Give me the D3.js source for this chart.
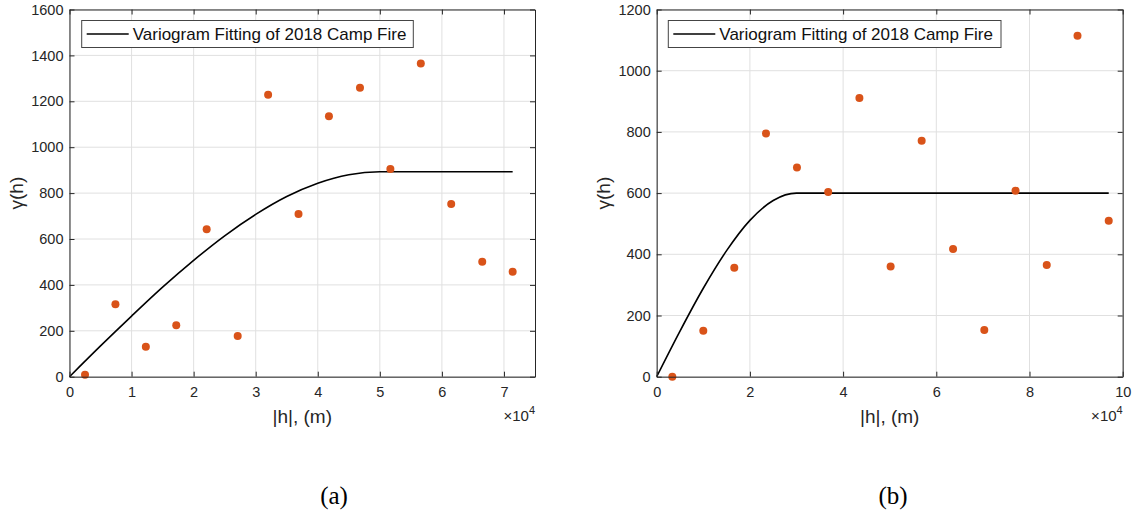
<!DOCTYPE html>
<html>
<head>
<meta charset="utf-8">
<script src="https://cdn.jsdelivr.net/npm/d3@7"></script>
<style>
  html, body { margin: 0; padding: 0; background: #fff; }
  svg { display: block; }
  text { font-family: "Liberation Sans", Arial, Helvetica, sans-serif; }
</style>
</head>
<body>
<svg id="chart" width="1135" height="517"></svg>
<script>
// Experimental variogram (lag distance in metres, semivariance) and fitted model, panel (a)
const lagA = [2500, 7400, 12300, 17200, 22100, 27100, 32000, 36900, 41800, 46800, 51700, 56600, 61500, 66500, 71400];
const gammaA = [8, 316, 131, 224, 642, 177, 1229, 709, 1135, 1259, 905, 1365, 752, 501, 457];
const fitLagA = [0, 5000, 10000, 15000, 20000, 25000, 30000, 35000, 40000, 45000, 50000, 71400];
const fitGammaA = [0, 134, 264, 390, 507, 614, 707, 785, 843, 880, 893, 893];
const xTicksA = [0, 1, 2, 3, 4, 5, 6, 7];
const yTicksA = [0, 200, 400, 600, 800, 1000, 1200, 1400, 1600];

// Panel (b)
const lagB = [3350, 10000, 16650, 23450, 30100, 36800, 43500, 50200, 56860, 63600, 70300, 77000, 83700, 90300, 97000];
const gammaB = [0, 150, 356, 795, 684, 604, 911, 360, 771, 417, 153, 608, 365, 1114, 510];
const fitLagB = [0, 5000, 10000, 15000, 20000, 25000, 30000, 97000];
const fitGammaB = [0, 149, 289, 412, 511, 576, 600, 600];
const xTicksB = [0, 2, 4, 6, 8, 10];
const yTicksB = [0, 200, 400, 600, 800, 1000, 1200];

const legendLabel = "Variogram Fitting of 2018 Camp Fire";
const xLabel = "|h|, (m)";
const yLabel = "\u03b3(h)";

const svg = d3.select("#chart");
svg.append("rect").attr("width", 1135).attr("height", 517).attr("fill", "#fff");

const axisColor = "#262626";
const gridColor = "#e0e0e0";
const markerColor = "#d95319";

function panel(cfg) {
  const { left, top, width, height } = cfg;
  const g = svg.append("g").attr("transform", `translate(${left},${top})`);
  const x = d3.scaleLinear().domain(cfg.xDomain).range([0, width]);
  const y = d3.scaleLinear().domain(cfg.yDomain).range([height, 0]);
  const xt = cfg.xTicks.map(d => d * 1e4);

  // grid
  g.append("g").selectAll("line").data(xt).join("line")
    .attr("x1", d => x(d)).attr("x2", d => x(d))
    .attr("y1", 0).attr("y2", height)
    .attr("stroke", gridColor).attr("stroke-width", 1);
  g.append("g").selectAll("line").data(cfg.yTicks).join("line")
    .attr("y1", d => y(d)).attr("y2", d => y(d))
    .attr("x1", 0).attr("x2", width)
    .attr("stroke", gridColor).attr("stroke-width", 1);

  // fitted model curve
  const line = d3.line()
    .x((d, i) => x(cfg.fitLag[i]))
    .y(d => y(d))
    .curve(d3.curveMonotoneX);
  g.append("path").datum(cfg.fitGamma)
    .attr("d", line)
    .attr("fill", "none")
    .attr("stroke", "#000")
    .attr("stroke-width", 1.6);

  // experimental points
  g.append("g").selectAll("circle").data(cfg.gamma).join("circle")
    .attr("cx", (d, i) => x(cfg.lag[i]))
    .attr("cy", d => y(d))
    .attr("r", 4)
    .attr("fill", markerColor);

  // axes (bottom/left with labels, top/right mirrored ticks only)
  const tickFont = g2 => g2.selectAll("text")
    .attr("fill", axisColor)
    .style("font-size", "14.5px")
    .style("font-family", '"Liberation Sans", Arial, sans-serif');
  const styleAxis = a => {
    a.select(".domain").attr("stroke", axisColor).attr("stroke-width", 1);
    a.selectAll(".tick line").attr("stroke", axisColor);
  };

  const bottom = g.append("g").attr("transform", `translate(0,${height})`)
    .call(d3.axisBottom(x).tickValues(xt).tickFormat(d => d3.format("d")(d / 1e4))
      .tickSizeInner(-5).tickSizeOuter(0).tickPadding(10));
  styleAxis(bottom); tickFont(bottom);

  const leftAx = g.append("g")
    .call(d3.axisLeft(y).tickValues(cfg.yTicks).tickFormat(d3.format("d"))
      .tickSizeInner(-5).tickSizeOuter(0).tickPadding(6));
  styleAxis(leftAx); tickFont(leftAx);

  const topAx = g.append("g")
    .call(d3.axisTop(x).tickValues(xt).tickFormat("")
      .tickSizeInner(-5).tickSizeOuter(0));
  styleAxis(topAx);

  const rightAx = g.append("g").attr("transform", `translate(${width},0)`)
    .call(d3.axisRight(y).tickValues(cfg.yTicks).tickFormat("")
      .tickSizeInner(-5).tickSizeOuter(0));
  styleAxis(rightAx);

  // axis labels
  g.append("text")
    .attr("x", width / 2).attr("y", height + 46)
    .attr("text-anchor", "middle")
    .attr("fill", axisColor)
    .style("font-size", "19px")
    .text(xLabel);
  g.append("text")
    .attr("transform", `translate(${cfg.yLabelX - left},${height / 2}) rotate(-90)`)
    .attr("text-anchor", "middle")
    .attr("dy", "0.35em")
    .attr("fill", axisColor)
    .style("font-size", "19px")
    .text(yLabel);

  // exponent marker
  const ex = g.append("text")
    .attr("x", width).attr("y", height + 44)
    .attr("text-anchor", "end")
    .attr("fill", axisColor)
    .style("font-size", "15px");
  ex.append("tspan").text("\u00d710");
  ex.append("tspan").attr("dy", -7).style("font-size", "11px").text("4");

  // legend
  const lg = g.append("g").attr("transform", `translate(${cfg.legendX - left},${11})`);
  lg.append("rect")
    .attr("width", cfg.legendW).attr("height", 27)
    .attr("fill", "#fff")
    .attr("stroke", "#444").attr("stroke-width", 1);
  lg.append("line")
    .attr("x1", 5).attr("x2", 47).attr("y1", 13.5).attr("y2", 13.5)
    .attr("stroke", "#000").attr("stroke-width", 1.6);
  lg.append("text")
    .attr("x", 51).attr("y", 13.5).attr("dy", "0.36em")
    .attr("fill", "#111")
    .style("font-size", "17px")
    .text(legendLabel);

  // panel caption
  svg.append("text")
    .attr("x", cfg.captionX).attr("y", 504)
    .attr("text-anchor", "middle")
    .attr("fill", "#000")
    .style("font-family", '"Liberation Serif", "Times New Roman", serif')
    .style("font-size", "25px")
    .text(cfg.caption);
}

panel({
  left: 69.5, top: 9.5, width: 465.5, height: 367.2,
  xDomain: [0, 75000], yDomain: [0, 1600],
  lag: lagA, gamma: gammaA, fitLag: fitLagA, fitGamma: fitGammaA,
  xTicks: xTicksA, yTicks: yTicksA,
  yLabelX: 16, legendX: 81.7, legendW: 331.6,
  captionX: 334, caption: "(a)"
});

panel({
  left: 656.7, top: 9.5, width: 466, height: 367.2,
  xDomain: [0, 100000], yDomain: [0, 1200],
  lag: lagB, gamma: gammaB, fitLag: fitLagB, fitGamma: fitGammaB,
  xTicks: xTicksB, yTicks: yTicksB,
  yLabelX: 603, legendX: 668.3, legendW: 332.7,
  captionX: 893, caption: "(b)"
});
</script>
</body>
</html>
